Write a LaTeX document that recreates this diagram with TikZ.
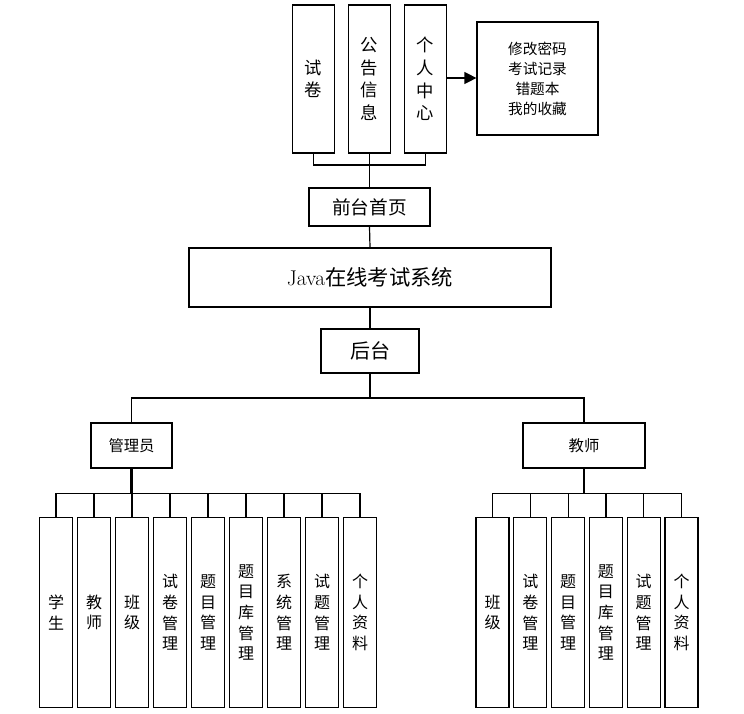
\documentclass[tikz,border=0pt]{standalone}
\usepackage{fontspec}
\newfontfamily\cjk{Noto Sans CJK SC}
\usetikzlibrary{arrows.meta}
\begin{document}
\begin{tikzpicture}[x=0.75pt,y=-0.75pt,
  bx/.style={draw,line width=0.9pt,inner sep=0pt,font=\cjk},
  ln/.style={line width=0.9pt},
  vt/.style={bx,minimum width=24.75pt,minimum height=143pt,align=center,font=\cjk\fontsize{12}{15.5}\selectfont},
  vtt/.style={bx,minimum width=32pt,minimum height=111pt,align=center,font=\cjk\fontsize{13}{17}\selectfont}]
\useasboundingbox (0,0) rectangle (744,714);
% top
\node[vtt] (t1) at (313.5,79) {试\\卷};
\node[vtt] (t2) at (369.5,79) {公\\告\\信\\息};
\node[vtt] (t3) at (425.5,79) {个\\人\\中\\心};
\node[bx,minimum width=90.75pt,minimum height=84.75pt,align=center,font=\cjk\fontsize{11}{15}\selectfont] (me) at (537.5,78.5) {修改密码\\考试记录\\错题本\\我的收藏};
\draw[ln,-{Triangle[length=9pt,width=9pt]}] (t3.east|-0,78) -- (me.west|-0,78);
\node[bx,minimum width=90.75pt,minimum height=28.5pt,font=\cjk\fontsize{14}{16}\selectfont] (qt) at (369.5,207) {前台首页};
\coordinate (tb) at (369.5,165);
\draw[ln] (t1.south) |- (tb) -| (t3.south);
\draw[ln] (t2.south) -- (qt.north);
\node[bx,minimum width=271.5pt,minimum height=44.25pt,font=\fontsize{16}{18}\selectfont] (java) at (370,277.5) {Java{\cjk 在线考试系统}};
\draw[ln] (qt.south) -- (java.north);
\node[bx,minimum width=73.5pt,minimum height=33pt,font=\cjk\fontsize{15}{17}\selectfont] (ht) at (370,351) {后台};
\draw[ln] (java.south) -- (ht.south|-java.south) -- (ht.north);
\node[bx,minimum width=60.75pt,minimum height=33.75pt,font=\cjk\fontsize{11.5}{14}\selectfont] (adm) at (131.5,445.5) {管理员};
\node[bx,minimum width=91.5pt,minimum height=33.75pt,font=\cjk\fontsize{11.5}{14}\selectfont] (tea) at (584,445.5) {教师};
\coordinate (hb) at (370,398);
\draw[ln] (ht.south) -- (hb);
\draw[ln] (adm.north) |- (hb) -| (tea.north);
% admin children
\foreach \i/\t in {0/学\\生,1/教\\师,2/班\\级,3/试\\卷\\管\\理,4/题\\目\\管\\理,5/题\\目\\库\\管\\理,6/系\\统\\管\\理,7/试\\题\\管\\理,8/个\\人\\资\\料}{
  \node[vt] (a\i) at ({56+38*\i},612.5) {\t};
}
\draw[ln] (a0.north) -- ++(0,-23) -| (a8.north);
\foreach \i in {1,...,7} \draw[ln] (a\i.north) -- ++(0,-23);
\draw[line width=2pt] (adm.south) -- (131.5,494);
% teacher children
\foreach \i/\t in {0/班\\级,1/试\\卷\\管\\理,2/题\\目\\管\\理,3/题\\目\\库\\管\\理,4/试\\题\\管\\理,5/个\\人\\资\\料}{
  \node[vt] (b\i) at ({492.5+37.8*\i},612.5) {\t};
}
\draw[ln] (b0.north) -- ++(0,-23) -| (b5.north);
\foreach \i in {1,...,4} \draw[ln] (b\i.north) -- ++(0,-23);
\draw[line width=2pt] (tea.south) -- (584,494);
\end{tikzpicture}
\end{document}
